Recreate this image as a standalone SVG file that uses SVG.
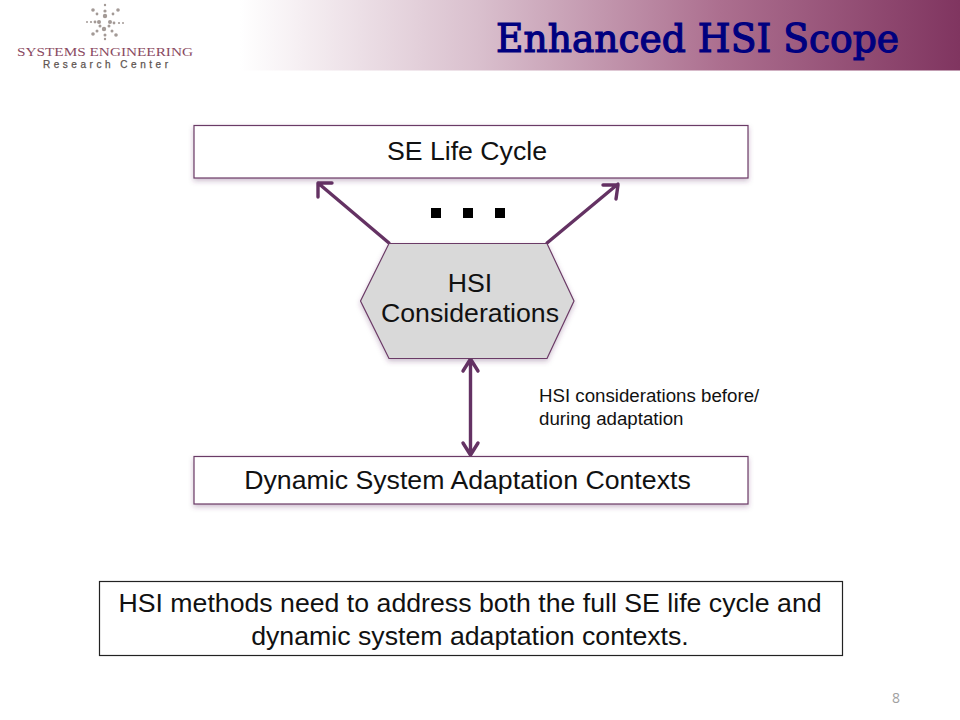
<svg xmlns="http://www.w3.org/2000/svg" width="960" height="720" viewBox="0 0 960 720">
<style>
text{font-family:"Liberation Sans",Arial,sans-serif;fill:#111}
.n{fill:#fff;stroke:#6b3a66;stroke-width:1.2;filter:url(#sh)}
.c{fill:none;stroke:#643263;stroke-width:3.4;stroke-linecap:round;stroke-linejoin:round}
.d{fill:#a39a96}
.l{font-size:26.700px;text-anchor:middle}
</style>
<defs>
<linearGradient id="g" x1="0" x2="1" y1="0" y2="0">
<stop offset="0" stop-color="#fff"/><stop offset="0.25" stop-color="#fff"/><stop offset="0.5" stop-color="#d9bfcd"/><stop offset="0.75" stop-color="#ac6f8f"/><stop offset="1" stop-color="#803560"/>
</linearGradient>
<filter id="sh" x="-10%" y="-20%" width="120%" height="140%"><feDropShadow dx="0" dy="2.500" stdDeviation="2.500" flood-color="#5a2a60" flood-opacity="0.3"/></filter>
</defs>
<rect width="960" height="720" fill="#fff"/>
<rect id="banner" width="960" height="70.500" fill="url(#g)"/>
<g id="logo">
<g class="d">
<circle cx="105" cy="5" r="1.2"/><circle cx="105" cy="11" r="1.6"/><circle cx="105" cy="16" r="2.2"/>
<circle cx="93" cy="10" r="1.8"/><circle cx="97" cy="14" r="1.4"/><circle cx="118" cy="10" r="1.8"/><circle cx="113" cy="14" r="1.4"/>
<circle cx="87" cy="22" r="1"/><circle cx="91" cy="22" r="1.1"/><circle cx="95" cy="22" r="1.4"/><circle cx="99" cy="22" r="2"/><circle cx="110" cy="22" r="2"/><circle cx="114" cy="23" r="1.4"/><circle cx="119" cy="23" r="1.1"/><circle cx="123" cy="23" r="1"/>
<circle cx="100" cy="26" r="1.5"/><circle cx="109" cy="26" r="1.5"/><circle cx="104" cy="29" r="2.2"/>
<circle cx="97" cy="31" r="1.5"/><circle cx="93" cy="34" r="1.8"/><circle cx="112" cy="31" r="1.5"/><circle cx="116" cy="35" r="1.8"/>
<circle cx="105" cy="35" r="1.5"/><circle cx="105" cy="39" r="1.2"/>
</g>
<text x="17" y="56" font-size="13.500" textLength="176" lengthAdjust="spacingAndGlyphs" style="font-family:'Liberation Serif',serif;fill:#8a4a62">SYSTEMS ENGINEERING</text>
<text x="43" y="68" font-size="10" textLength="125" style="fill:#5e5450;stroke:#5e5450;stroke-width:.25">Research Center</text>
</g>
<text id="title" x="496" y="52" font-size="38.500" textLength="403" lengthAdjust="spacingAndGlyphs" style="font-family:'DejaVu Serif',serif;fill:#00007f;stroke:#00007f;stroke-width:1.2">Enhanced HSI Scope</text>
<g id="connectors">
<path class="c" d="M389 243L318 183M318 197V183H332"/>
<path class="c" d="M547 243L618 184M603 185H618L616 199"/>
<path class="c" d="M470.500 359V455M463 371L470.500 359L478 371M463 443L470.500 455L478 443"/>
</g>
<g id="se-life-cycle"><rect class="n" x="194" y="125.500" width="554" height="52.500"/><text class="l" x="467" y="159.500">SE Life Cycle</text></g>
<g id="hsi-considerations"><polygon class="n" points="389,243.500 547,243.500 574,301 547,358.500 389,358.500 360.500,301" style="fill:#d9d9d9"/><text class="l" x="470" y="291.500">HSI</text><text class="l" x="470" y="321.500">Considerations</text></g>
<g id="dsac"><rect class="n" x="194" y="456.500" width="554" height="47.500"/><text class="l" x="467.500" y="488.500">Dynamic System Adaptation Contexts</text></g>
<g id="dots" fill="#000"><rect x="431" y="208" width="10" height="10"/><rect x="463" y="208" width="10" height="10"/><rect x="495" y="208" width="10" height="10"/></g>
<text x="539" y="402" font-size="18.700">HSI considerations before/</text>
<text x="539" y="425" font-size="18.700">during adaptation</text>
<g id="note"><rect x="99.500" y="581.500" width="743" height="74" fill="#fff" stroke="#222" stroke-width="1.2"/><text class="l" x="470" y="611.500">HSI methods need to address both the full SE life cycle and</text><text class="l" x="470" y="644.500">dynamic system adaptation contexts.</text></g>
<text x="892" y="703" font-size="14" style="font-family:'Open Sans',sans-serif;fill:#a0a0a0">8</text>
</svg>
